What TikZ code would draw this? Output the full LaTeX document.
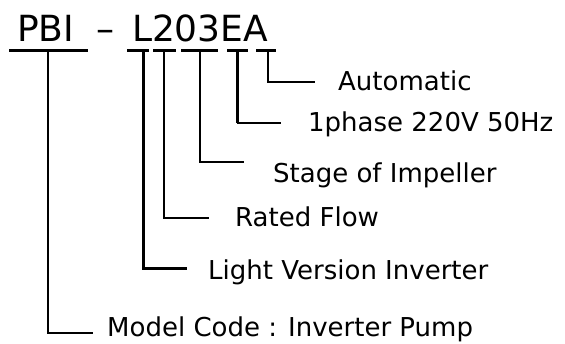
\documentclass[tikz,border=0pt]{standalone}
\usepackage{fontspec}
\setmainfont{DejaVu Sans}
\usetikzlibrary{positioning}
\begin{document}
\begin{tikzpicture}[x=1pt,y=-1pt]
\tikzstyle{codigo}=[inner sep=0pt, outer sep=0pt, anchor=base west, font=\fontsize{36}{40}\selectfont]
\tikzstyle{rotulo}=[inner sep=0pt, anchor=base west, font=\fontsize{26}{30}\selectfont]
\tikzstyle{sublinha}=[line width=3pt]
\tikzstyle{ramo}=[line width=2.4pt]
\tikzstyle{ramofino}=[line width=1.7pt]
\useasboundingbox (0,0) rectangle (565,344);
% codigo do modelo
\node[codigo] (pbi) at (17,42) {PBI};
\node[codigo, anchor=base] (traco) at (105,42) {\textendash};
\node[codigo] (letraL) at (132,42) {L};
\node[codigo] (vazao) at (letraL.base east) {2};
\node[codigo] (estagio) at (vazao.base east) {03};
\node[codigo] (fase) at (estagio.base east) {E};
\node[codigo] (auto) at (fase.base east) {A};
% sublinhados
\draw[sublinha] (9,51) -- (88,51);
\draw[sublinha] (127,51) -- (149,51);
\draw[sublinha] (153,51) -- (176,51);
\draw[sublinha] (181,51) -- (218,51);
\draw[sublinha] (227,51) -- (248,51);
\draw[sublinha] (256,51) -- (276,51);
% rotulos
\node[rotulo] (rAuto) at (338,91) {Automatic};
\node[rotulo] (rFase) at (308,132) {1phase 220V 50Hz};
\node[rotulo] (rEstagio) at (273,183) {Stage of Impeller};
\node[rotulo] (rVazao) at (235,227) {Rated Flow};
\node[rotulo] (rLeve) at (208,280) {Light Version Inverter};
\node[rotulo] (rModelo) at (107,337) {Model Code : Inverter Pump};
% pontos dos ramos
\coordinate (pA) at (268,51);
\coordinate (pE) at (237,51);
\coordinate (p03) at (200,51);
\coordinate (p2) at (164,51);
\coordinate (pL) at (143,51);
\coordinate (pPBI) at (48,51);
\coordinate (fA) at (315,82);
\coordinate (fE) at (281,123);
\coordinate (f03) at (244,162);
\coordinate (f2) at (209,218);
\coordinate (fL) at (187,269);
\coordinate (fPBI) at (93,333);
\draw[ramofino] (pA) |- (fA);
\draw[line width=3pt] (pE) -- (pE|-fE);
\draw[ramofino] (pE|-fE) -- (fE);
\draw[ramo] (p03) |- (f03);
\draw[ramofino] (p2) |- (f2);
\draw[line width=3pt] (pL) |- (fL);
\draw[ramo] (pPBI) |- (fPBI);
\end{tikzpicture}
\end{document}
